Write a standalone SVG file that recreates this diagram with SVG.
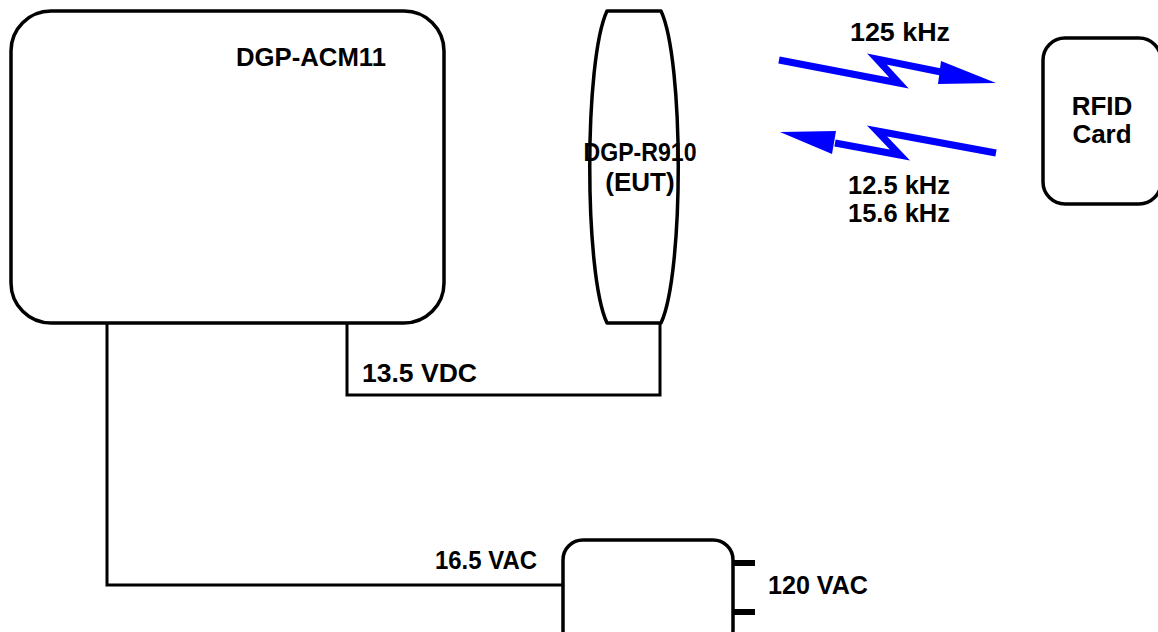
<svg xmlns="http://www.w3.org/2000/svg" width="1158" height="632" viewBox="0 0 1158 632">
<style>
.box{fill:#fff;stroke:#000;stroke-width:3.5}
.wire{fill:none;stroke:#000;stroke-width:3}
.lbl{font-family:"Liberation Sans",Arial,sans-serif;font-weight:bold;font-size:26px;fill:#000}
.rf{fill:none;stroke:#0000ff;stroke-width:7;stroke-linejoin:miter}
.head{fill:#0000ff}
</style>
<rect width="1158" height="632" fill="#fff"/>
<g id="connectors">
<polyline class="wire" points="107,323 107,585 563,585"/>
<polyline class="wire" points="347,323 347,395 660,395 660,323"/>
<line x1="733" y1="563" x2="755" y2="563" stroke="#000" stroke-width="6"/>
<line x1="733" y1="612" x2="755" y2="612" stroke="#000" stroke-width="6"/>
<polyline class="rf" points="779,60 899,83 877,59 941,72"/>
<polygon class="head" points="941,61 938,84 996,83"/>
<polyline class="rf" points="996,153 877,131 900,155 835,143"/>
<polygon class="head" points="836,131 832,154 780,132"/>
</g>
<g id="acm11">
<rect class="box" x="11" y="11" width="433" height="312" rx="40"/>
<text class="lbl" x="236" y="66" textLength="150" lengthAdjust="spacingAndGlyphs">DGP-ACM11</text>
</g>
<g id="r910">
<path class="box" d="M607,11 L661,11 C684,60 684,274 661,323 L607,323 C584,274 584,60 607,11 Z" stroke-linejoin="round"/>
<text class="lbl" x="640" y="161" text-anchor="middle" textLength="113" lengthAdjust="spacingAndGlyphs">DGP-R910</text>
<text class="lbl" x="640" y="191" text-anchor="middle">(EUT)</text>
</g>
<g id="rfid">
<rect class="box" x="1043" y="38" width="118" height="166" rx="22"/>
<text class="lbl" x="1102" y="115" text-anchor="middle">RFID</text>
<text class="lbl" x="1102" y="143" text-anchor="middle">Card</text>
</g>
<g id="psu">
<rect class="box" x="563" y="540" width="170" height="110" rx="20"/>
</g>
<g id="labels">
<text class="lbl" x="850" y="41" textLength="100" lengthAdjust="spacingAndGlyphs">125 kHz</text>
<text class="lbl" x="848" y="194" textLength="102" lengthAdjust="spacingAndGlyphs">12.5 kHz</text>
<text class="lbl" x="848" y="222" textLength="102" lengthAdjust="spacingAndGlyphs">15.6 kHz</text>
<text class="lbl" x="362" y="382" textLength="115" lengthAdjust="spacingAndGlyphs">13.5 VDC</text>
<text class="lbl" x="435" y="569" textLength="102" lengthAdjust="spacingAndGlyphs">16.5 VAC</text>
<text class="lbl" x="768" y="594" textLength="100" lengthAdjust="spacingAndGlyphs">120 VAC</text>
</g>
</svg>
